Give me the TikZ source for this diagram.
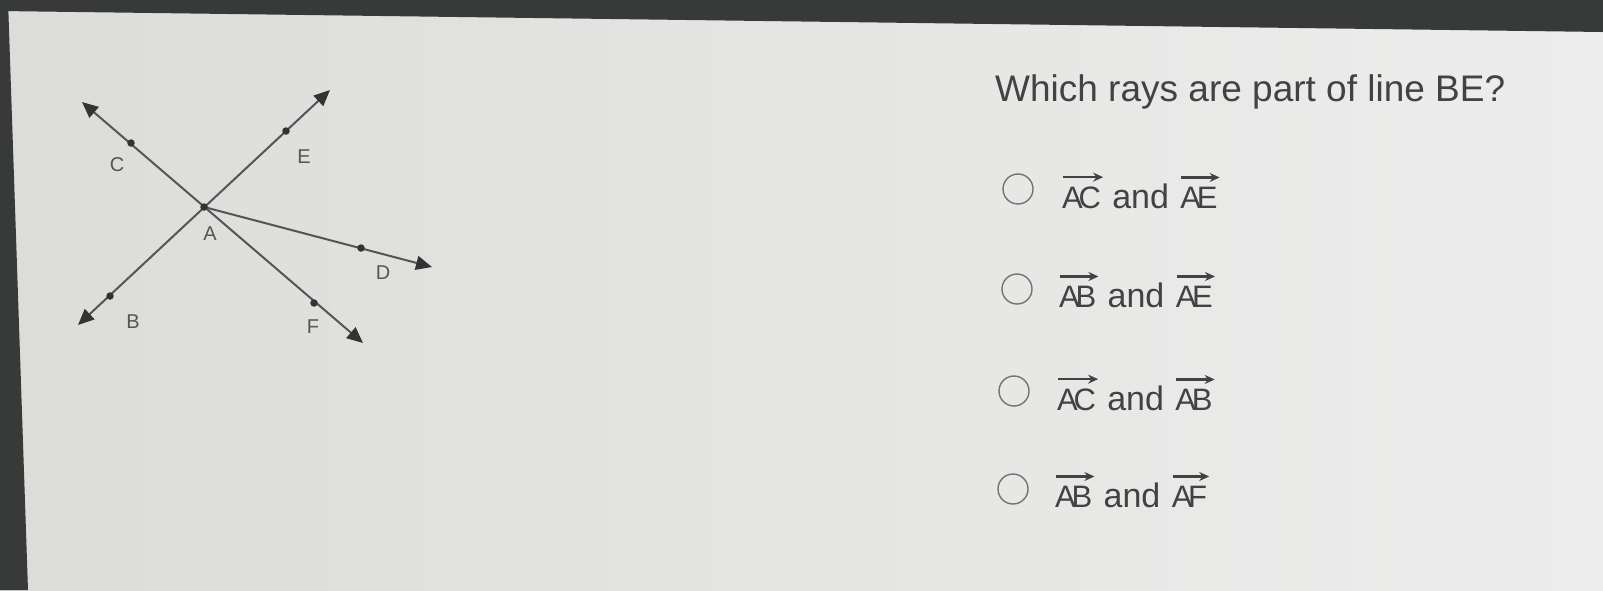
\documentclass[tikz,border=0pt]{standalone}
\usepackage{fontspec}
\setmainfont{Liberation Sans}
\usetikzlibrary{arrows.meta}
\definecolor{bgL}{HTML}{DCDDD9}
\definecolor{bgR}{HTML}{EDEDED}
\definecolor{frame}{HTML}{383A39}
\definecolor{ink}{HTML}{424242}
\definecolor{geo}{HTML}{555555}
\tikzset{
  rayline/.style={draw=geo, line width=2pt},
  ptdot/.style={circle, fill=black!80, inner sep=0pt, minimum size=7.5pt},
  ptlabel/.style={text=geo, font=\fontsize{20}{22}\selectfont, inner sep=0pt},
  question/.style={text=ink, font=\fontsize{37}{40}\selectfont, inner sep=0pt, anchor=base west},
  opttext/.style={text=ink, font=\fontsize{34}{38}\selectfont, inner sep=0pt, anchor=base west},
  vectext/.style={text=ink, font=\fontsize{31}{36}\selectfont, inner sep=0pt, anchor=base west},
  radio/.style={circle, draw=black!55, line width=1.4pt, minimum size=30pt, inner sep=0pt},
  vecarrow/.style={draw=ink, line width=2.4pt, -{Stealth[length=10pt,width=9pt]}}
}
\newcommand{\vpair}[2]{#1\kern-0.14em #2}
\begin{document}
\begin{tikzpicture}[x=1pt,y=-1pt]
\useasboundingbox (0,0) rectangle (1603,590);
% background (photo of a screen)
\shade[left color=bgL, right color=bgR] (0,0) rectangle (1603,590);
\fill[frame] (0,0) -- (1603,0) -- (1603,32) -- (0,11) -- cycle;
\fill[frame] (0,0) -- (8,0) -- (28,590) -- (0,590) -- cycle;

% geometry
\coordinate (A) at (204,207);
\coordinate (Btip) at (78,325);
\coordinate (Etip) at (330,90);
\coordinate (Ctip) at (82,102);
\coordinate (Ftip) at (363,343);
\coordinate (Dtip) at (432,267);
\tikzset{tri/.tip={Triangle[length=16pt,width=14pt,color=black!80]}}
\draw[rayline, tri-tri] (Btip) -- (Etip);
\draw[rayline, tri-tri] (Ctip) -- (Ftip);
\draw[rayline, -tri] (A) -- (Dtip);

\node[ptdot] (dA) at (A) {};
\node[ptdot] (dC) at (131,143) {};
\node[ptdot] (dE) at (286,131) {};
\node[ptdot] (dD) at (361,248) {};
\node[ptdot] (dB) at (110,296) {};
\node[ptdot] (dF) at (314,303) {};

\node[ptlabel] (lA) at (210,234) {A};
\node[ptlabel] (lC) at (117,165) {C};
\node[ptlabel] (lE) at (304,157) {E};
\node[ptlabel] (lD) at (383,273) {D};
\node[ptlabel] (lB) at (133,322) {B};
\node[ptlabel] (lF) at (313,327) {F};

% question
\node[question] (q) at (995,101) {Which rays are part of line BE?};

% option 1
\node[radio] (r1) at (1018,189) {};
\node[vectext] (o1a) at (1062,208) {\vpair{A}{C}};
\node[opttext] (o1b) at ([xshift=11pt]o1a.base east) {and};
\node[vectext] (o1c) at ([xshift=11pt]o1b.base east) {\vpair{A}{E}};
% option 2
\node[radio] (r2) at (1017,289) {};
\node[vectext] (o2a) at (1059,307) {\vpair{A}{B}};
\node[opttext] (o2b) at ([xshift=11pt]o2a.base east) {and};
\node[vectext] (o2c) at ([xshift=11pt]o2b.base east) {\vpair{A}{E}};
% option 3
\node[radio] (r3) at (1014,391) {};
\node[vectext] (o3a) at (1057,410) {\vpair{A}{C}};
\node[opttext] (o3b) at ([xshift=11pt]o3a.base east) {and};
\node[vectext] (o3c) at ([xshift=11pt]o3b.base east) {\vpair{A}{B}};
% option 4
\node[radio] (r4) at (1013,489) {};
\node[vectext] (o4a) at (1055,507) {\vpair{A}{B}};
\node[opttext] (o4b) at ([xshift=11pt]o4a.base east) {and};
\node[vectext] (o4c) at ([xshift=11pt]o4b.base east) {\vpair{A}{F}};

\foreach \n in {o1a,o1c,o2a,o2c,o3a,o3c,o4a,o4c}{
  \draw[vecarrow] ([xshift=1pt,yshift=9pt]\n.north west) -- ([xshift=2pt,yshift=9pt]\n.north east);
}
\end{tikzpicture}
\end{document}
